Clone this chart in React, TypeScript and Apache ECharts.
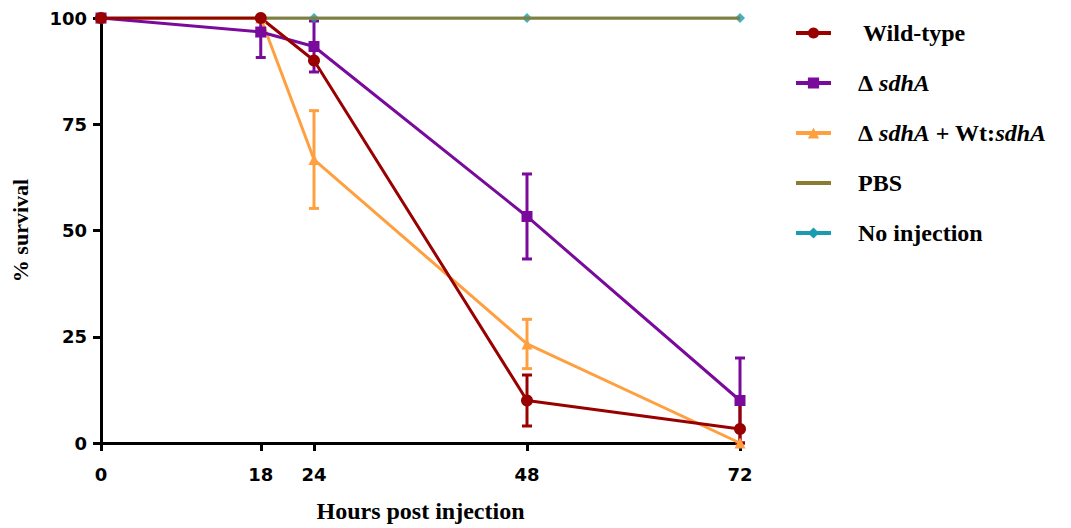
import React, { useEffect, useRef } from "react";
import * as echarts from "echarts";

const hours = [0, 18, 24, 48, 72];
const xTicks = [0, 18, 24, 48, 72];
const yTicks = [0, 25, 50, 75, 100];

const wildType = [100, 100, 90, 10, 3.3];
const wildTypeErr = [0, 0, 0, 6, 6.7];
const sdhA = [100, 96.7, 93.3, 53.3, 10];
const sdhAErr = [0, 6, 6, 10, 10];
const complemented = [100, 100, 66.7, 23.3, 0];
const complementedErr = [0, 0, 11.5, 5.8, 0];
const pbs = [100, 100, 100, 100, 100];
const noInjection = [100, 100, 100, 100, 100];

const names = ["Wild-type", "Δ sdhA", "Δ sdhA + Wt:sdhA", "PBS", "No injection"];
const colors = {
  wt: "#990000",
  sdhA: "#7a0a9c",
  comp: "#ffa040",
  pbs: "#8c7c32",
  noinj: "#1a9bb0",
};

const SERIF = "'Liberation Serif', 'Times New Roman', serif";
const SANS = "'DejaVu Sans', 'Liberation Sans', Arial, sans-serif";

const pts = (ys: number[]) => hours.map((h, i) => [h, ys[i]]);
const errPts = (ys: number[], es: number[]) =>
  hours
    .map((h, i) => [h, Math.max(0, ys[i] - es[i]), Math.min(100, ys[i] + es[i])])
    .filter((_, i) => es[i] > 0);

function errorSeries(data: number[][], color: string) {
  return {
    type: "custom",
    silent: true,
    data,
    encode: { x: 0, y: [1, 2] },
    renderItem: (params: any, api: any) => {
      const x = api.value(0);
      const lo = api.coord([x, api.value(1)]);
      const hi = api.coord([x, api.value(2)]);
      const hw = 5;
      const st = { stroke: color, lineWidth: 3 };
      return {
        type: "group",
        children: [
          { type: "line", shape: { x1: lo[0], y1: lo[1], x2: hi[0], y2: hi[1] }, style: st },
          { type: "line", shape: { x1: lo[0] - hw, y1: lo[1], x2: lo[0] + hw, y2: lo[1] }, style: st },
          { type: "line", shape: { x1: hi[0] - hw, y1: hi[1], x2: hi[0] + hw, y2: hi[1] }, style: st },
        ],
      };
    },
  };
}

const legendRich: Record<string, string> = {
  "Wild-type": "{sp2|}{n|Wild-type}",
  "Δ sdhA": "{sp|}{n|Δ }{i|sdhA}",
  "Δ sdhA + Wt:sdhA": "{sp|}{n|Δ }{i|sdhA}{n| + Wt:}{i|sdhA}",
  PBS: "{sp|}{n|PBS}",
  "No injection": "{sp|}{n|No injection}",
};

export default function App() {
  const ref = useRef<HTMLDivElement>(null);
  useEffect(() => {
    if (!ref.current) return;
    const chart = echarts.init(ref.current, undefined, { renderer: "svg" });
    const lineBase = (name: string, color: string, symbol: string, size: number, data: number[][]) => ({
      name,
      type: "line",
      data,
      symbol,
      symbolSize: size,
      lineStyle: { color, width: 3 },
      itemStyle: { color },
      emphasis: { disabled: true },
    });
    chart.setOption({
      animation: false,
      backgroundColor: "#ffffff",
      grid: {
        left: 101,
        right: 331,
        top: 18,
        bottom: 85,
        containLabel: false,
        outerBoundsMode: "none",
      },
      legend: {
        orient: "vertical",
        left: 789,
        top: 13,
        itemWidth: 35,
        itemHeight: 14,
        itemGap: 20,
        data: names,
        lineStyle: { width: 4 },
        formatter: (n: string) => legendRich[n] || n,
        textStyle: {
          color: "#000",
          fontFamily: SERIF,
          fontWeight: "bold",
          fontSize: 24,
          lineHeight: 30,
          rich: {
            sp: { width: 22 },
            sp2: { width: 27 },
            n: { fontFamily: SERIF, fontWeight: "bold", fontSize: 24, color: "#000" },
            i: { fontFamily: SERIF, fontWeight: "bold", fontStyle: "italic", fontSize: 24, color: "#000" },
          },
        },
      },
      xAxis: {
        type: "value",
        min: 0,
        max: 72,
        name: "Hours post injection",
        nameLocation: "middle",
        nameGap: 56,
        nameTextStyle: { fontFamily: SERIF, fontWeight: "bold", fontSize: 24, color: "#000" },
        axisLine: { show: true, onZero: false, lineStyle: { color: "#000", width: 3 } },
        axisTick: { show: true, length: 8, lineStyle: { color: "#000", width: 3 }, customValues: xTicks },
        axisLabel: {
          customValues: xTicks,
          margin: 22,
          color: "#000",
          fontFamily: SANS,
          fontWeight: "bold",
          fontSize: 18,
        },
        splitLine: { show: false },
      },
      yAxis: {
        type: "value",
        min: 0,
        max: 100,
        interval: 25,
        name: "% survival",
        nameLocation: "middle",
        nameGap: 70,
        nameTextStyle: { fontFamily: SERIF, fontWeight: "bold", fontSize: 22, color: "#000" },
        axisLine: { show: true, lineStyle: { color: "#000", width: 3 } },
        axisTick: { show: true, length: 8, lineStyle: { color: "#000", width: 3 }, customValues: yTicks },
        axisLabel: {
          customValues: yTicks,
          margin: 14,
          color: "#000",
          fontFamily: SANS,
          fontWeight: "bold",
          fontSize: 18,
        },
        splitLine: { show: false },
      },
      series: [
        { ...lineBase("No injection", colors.noinj, "diamond", 10, pts(noInjection)), showSymbol: false },
        {
          ...lineBase("PBS", colors.pbs, "circle", 0, pts(pbs)),
          showSymbol: false,
          itemStyle: { color: "rgba(0,0,0,0)" },
        },
        lineBase("Δ sdhA + Wt:sdhA", colors.comp, "triangle", 11, pts(complemented)),
        errorSeries(errPts(complemented, complementedErr), colors.comp),
        lineBase("Δ sdhA", colors.sdhA, "rect", 11, pts(sdhA)),
        errorSeries(errPts(sdhA, sdhAErr), colors.sdhA),
        {
          type: "scatter",
          data: pts(noInjection),
          symbol: "diamond",
          symbolSize: 10,
          itemStyle: { color: colors.noinj },
          silent: true,
        },
        lineBase("Wild-type", colors.wt, "circle", 12, pts(wildType)),
        errorSeries(errPts(wildType, wildTypeErr), colors.wt),
      ],
    });
    return () => chart.dispose();
  }, []);
  return (
    <div
      ref={ref}
      style={{ position: "fixed", left: 0, top: 0, width: 1071, height: 528, background: "#fff" }}
    />
  );
}
